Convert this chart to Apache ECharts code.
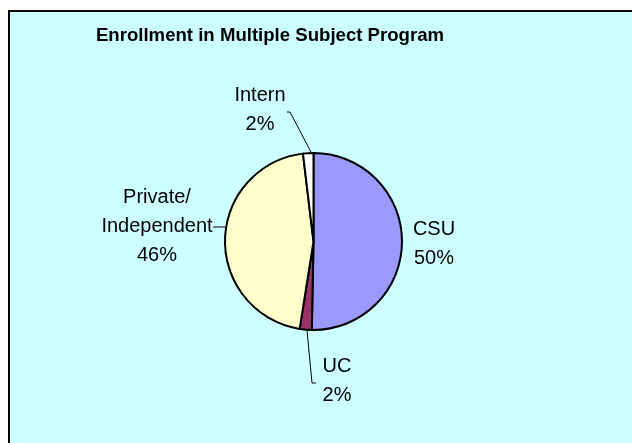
<!DOCTYPE html>
<html>
<head>
<meta charset="utf-8">
<script src="https://cdn.jsdelivr.net/npm/echarts@6/dist/echarts.min.js"></script>
<style>
  html, body { margin: 0; padding: 0; background: #fff; }
  #chart { width: 632px; height: 443px; }
</style>
</head>
<body>
<div id="chart"></div>
<script>
// data
const categories = ["CSU", "UC", "Private/\nIndependent", "Intern"];
const shares = [50.3, 2.2, 45.6, 1.9]; // percent of enrollment
const sliceColors = ["#9999FF", "#993366", "#FFFFCC", "#FFFFFF"];

// where each label sits, and its leader line (same order as categories)
const labelSpots = [
  { x: 434, y: 244, line: null },
  { x: 337, y: 381, line: [[307, 330], [312, 383], [316, 383]] },
  { x: 157, y: 226, line: [[225, 227], [213, 227]] },
  { x: 260, y: 110, line: [[311, 152], [290, 112], [287, 112]] },
];

const chart = echarts.init(document.getElementById("chart"), null, { renderer: "canvas" });

chart.setOption({
  backgroundColor: "#fff",
  animation: false,
  graphic: [
    {
      type: "rect",
      shape: { x: 9, y: 11, width: 640, height: 450 },
      style: { fill: "#CCFFFF", stroke: "#000", lineWidth: 2 },
      z: -10,
    },
  ],
  title: {
    text: "Enrollment in Multiple Subject Program",
    left: 265,
    top: 21,
    textAlign: "center",
    textStyle: {
      fontFamily: "Liberation Sans, Arial, sans-serif",
      fontWeight: "bold",
      fontSize: 18.6,
      color: "#000",
    },
  },
  series: [
    {
      type: "pie",
      center: [313.5, 241.5],
      radius: 88.5,
      startAngle: 90,
      clockwise: true,
      avoidLabelOverlap: false,
      itemStyle: { borderColor: "#000", borderWidth: 2 },
      label: {
        show: true,
        color: "#000",
        fontFamily: "Liberation Sans, Arial, sans-serif",
        fontSize: 20,
        lineHeight: 29,
        align: "center",
        formatter: (p) => p.name + "\n" + Math.round(p.value) + "%",
      },
      labelLine: {
        show: true,
        lineStyle: { color: "#000", width: 1 },
      },
      labelLayout: (params) => {
        const s = labelSpots[params.dataIndex];
        const out = { x: s.x, y: s.y, align: "center", verticalAlign: "middle" };
        if (s.line) out.labelLinePoints = s.line;
        return out;
      },
      data: categories.map((name, i) => ({
        name: name,
        value: shares[i],
        itemStyle: { color: sliceColors[i] },
        labelLine: { show: !!labelSpots[i].line },
      })),
    },
  ],
});
</script>
</body>
</html>
